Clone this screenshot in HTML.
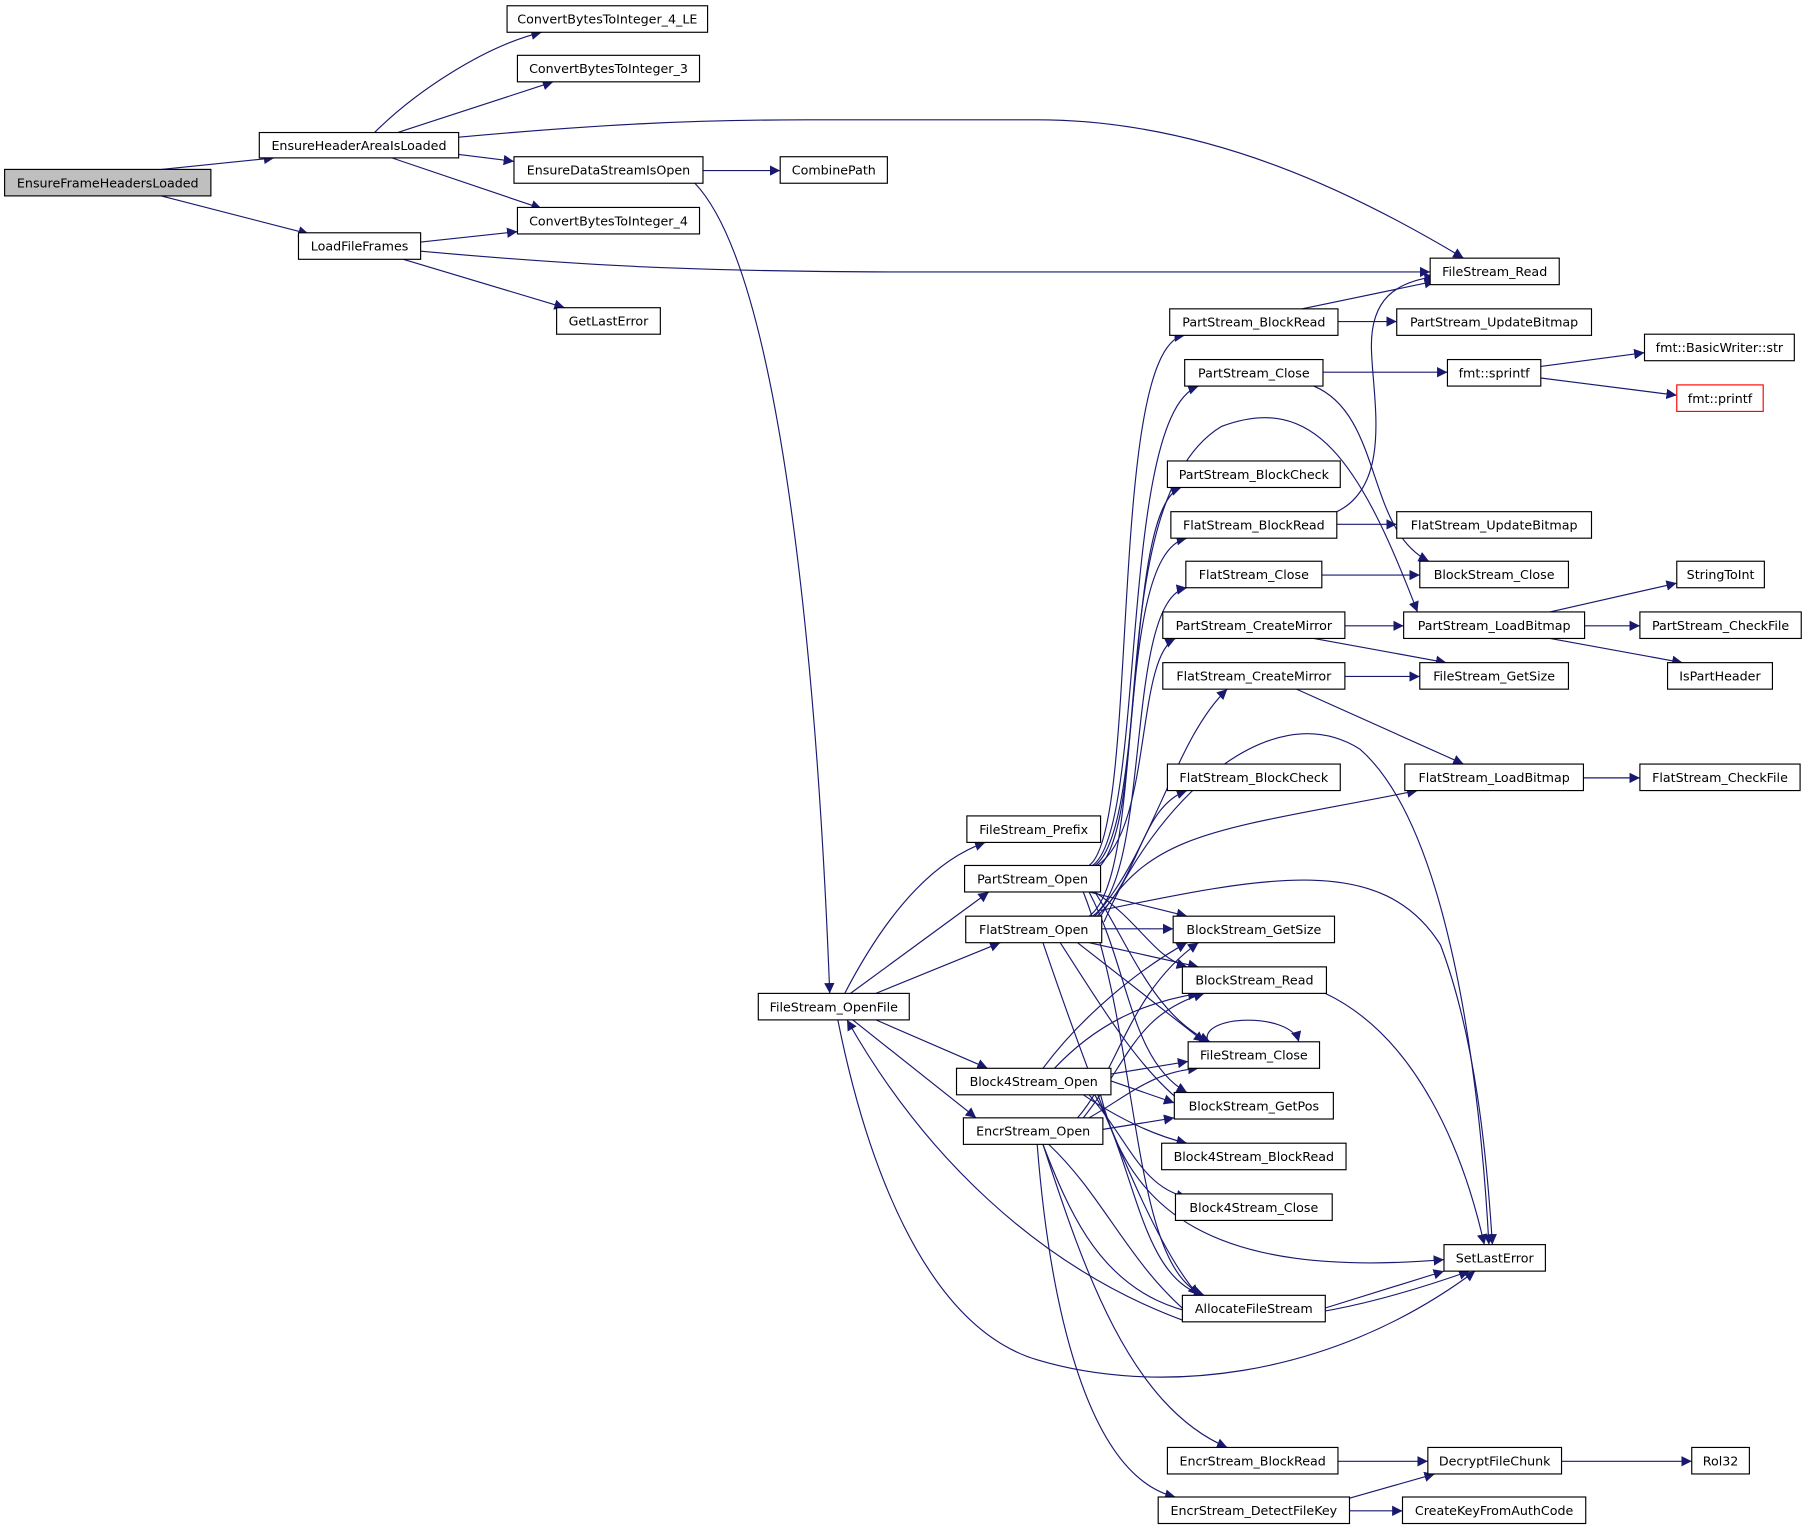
<!DOCTYPE html>
<html><head><meta charset="utf-8"><style>html,body{margin:0;padding:0;background:#fff}svg{display:block}text{font-family:"DejaVu Sans","Liberation Sans",sans-serif;font-size:11px;fill:#000}</style></head><body>
<svg width="1807" height="1531" viewBox="0 0 1568 1328.5" xmlns="http://www.w3.org/2000/svg">
<defs><marker id="a" viewBox="0 0 10 10" refX="10" refY="5" markerWidth="9" markerHeight="9" markerUnits="userSpaceOnUse" orient="auto"><path d="M0,0L10,5L0,10z" fill="#191970"/></marker></defs>
<g fill="none" stroke="#191970" stroke-width="1" marker-end="url(#a)">
<path d="M140,147L238,137"/>
<path d="M140,170L268,203"/>
<path d="M325,115C360,80 420,40 470,28"/>
<path d="M345,115L480,71"/>
<path d="M398,119C520,108 600,104 700,104L900,104C1050,104 1180,170 1270,224"/>
<path d="M398,134L446,140"/>
<path d="M340,137L470,181"/>
<path d="M365,210L449,201"/>
<path d="M365,218C500,230 600,236 800,236L1241,236"/>
<path d="M350,225L490,267"/>
<path d="M610,148L677,148"/>
<path d="M603,159C680,240 710,600 720,862"/>
<path d="M733,862C760,810 800,750 855,731"/>
<path d="M738,862L858,774"/>
<path d="M760,862L868,818"/>
<path d="M760,885L857,927"/>
<path d="M740,885L847,970"/>
<path d="M727,885C750,1000 800,1150 900,1180C1000,1210 1150,1200 1280,1103"/>
<path d="M1030,1147C900,1100 800,1000 735,885"/>
<!-- PartStream_Open -->
<path d="M945,751C990,720 960,300 1028,291"/>
<path d="M948,751C995,720 970,360 1040,335"/>
<path d="M950,751C995,720 975,440 1025,423"/>
<path d="M952,751C1000,720 985,570 1020,554"/>
<path d="M955,751C1000,700 960,430 1060,370C1140,340 1180,400 1230,531"/>
<path d="M945,774L1030,795"/>
<path d="M950,774C990,800 1000,830 1030,839"/>
<path d="M950,774C980,820 1000,880 1050,904"/>
<path d="M945,774C980,840 980,920 1030,948"/>
<path d="M940,774C990,900 980,1100 1045,1124"/>
<path d="M955,790C1100,760 1200,740 1250,820C1280,900 1290,1000 1295,1080"/>
<!-- FlatStream_Open -->
<path d="M945,795C995,760 965,480 1030,467"/>
<path d="M948,795C1000,760 975,520 1030,510"/>
<path d="M950,795C1000,740 1020,640 1065,598"/>
<path d="M952,795C990,760 990,700 1030,686"/>
<path d="M955,795C1000,720 1060,720 1230,686"/>
<path d="M956,806L1018,806"/>
<path d="M945,818L1040,839"/>
<path d="M935,818L1045,904"/>
<path d="M920,818C960,880 990,930 1030,960"/>
<path d="M905,818C950,950 1000,1080 1040,1124"/>
<path d="M958,800C1000,700 1100,600 1180,650C1260,720 1285,950 1292,1080"/>
<!-- Block4Stream_Open -->
<path d="M905,927C940,880 990,840 1030,818"/>
<path d="M915,927C950,890 990,870 1040,862"/>
<path d="M964,932L1031,921"/>
<path d="M964,938L1019,957"/>
<path d="M940,950C970,970 1000,985 1030,992"/>
<path d="M945,950C980,990 990,1030 1030,1039"/>
<path d="M950,950C985,1010 990,1110 1045,1124"/>
<path d="M955,950C980,1050 1050,1110 1253,1093"/>
<!-- EncrStream_Open -->
<path d="M935,970C970,930 980,860 1040,818"/>
<path d="M940,970C980,920 985,880 1045,862"/>
<path d="M945,970C980,950 1000,930 1040,927"/>
<path d="M957,980L1019,970"/>
<path d="M905,993C940,1100 980,1220 1065,1256"/>
<path d="M900,993C910,1120 940,1280 1020,1299"/>
<path d="M910,993C960,1040 980,1100 1040,1147"/>
<path d="M905,993C950,1110 1000,1200 1275,1103"/>
<!-- right -->
<path d="M1130,268L1245,244"/>
<path d="M1161,279L1212,279"/>
<path d="M1148,323L1256,323"/>
<path d="M1140,335C1200,360 1185,460 1240,487"/>
<path d="M1337,318L1427,306"/>
<path d="M1337,328L1455,343"/>
<path d="M1160,444C1210,420 1190,340 1190,300C1190,260 1210,245 1245,240"/>
<path d="M1160,455L1212,455"/>
<path d="M1147,499L1232,499"/>
<path d="M1167,543L1218,543"/>
<path d="M1140,554L1255,575"/>
<path d="M1167,587L1232,587"/>
<path d="M1125,598L1270,663"/>
<path d="M1374,675L1423,675"/>
<path d="M1345,531L1455,506"/>
<path d="M1375,543L1423,543"/>
<path d="M1345,554L1460,575"/>
<path d="M1150,862C1230,900 1270,1000 1288,1080"/>
<path d="M1150,1135L1253,1103"/>
<path d="M1048,904C1040,880 1120,878 1127,904"/>
<path d="M1161,1268L1239,1268"/>
<path d="M1355,1268L1468,1268"/>
<path d="M1171,1300L1245,1279"/>
<path d="M1171,1311L1217,1311"/>
</g>
<g stroke-width="1" text-anchor="middle">
<g fill="#fff" stroke="#000">
<rect x="4" y="147" width="179" height="23" fill="#bfbfbf"/>
<rect x="225" y="115" width="173" height="22"/>
<rect x="259" y="202" width="106" height="23"/>
<rect x="440" y="5" width="174" height="23"/>
<rect x="449" y="48" width="158" height="23"/>
<rect x="446" y="136" width="164" height="23"/>
<rect x="449" y="180" width="158" height="23"/>
<rect x="483" y="267" width="90" height="23"/>
<rect x="677" y="136" width="93" height="23"/>
<rect x="1241" y="224" width="112" height="23"/>
<rect x="1015" y="268" width="146" height="23"/>
<rect x="1212" y="268" width="169" height="23"/>
<rect x="1028" y="312" width="120" height="23"/>
<rect x="1256" y="312" width="81" height="23"/>
<rect x="1427" y="290" width="130" height="23"/>
<rect x="1455" y="334" width="75" height="23" stroke="#ff0000"/>
<rect x="1013" y="400" width="150" height="23"/>
<rect x="1016" y="444" width="144" height="23"/>
<rect x="1212" y="444" width="169" height="23"/>
<rect x="1029" y="487" width="118" height="23"/>
<rect x="1232" y="487" width="129" height="23"/>
<rect x="1009" y="531" width="158" height="23"/>
<rect x="1218" y="531" width="157" height="23"/>
<rect x="1455" y="487" width="76" height="23"/>
<rect x="1423" y="531" width="140" height="23"/>
<rect x="1009" y="575" width="158" height="23"/>
<rect x="1232" y="575" width="129" height="23"/>
<rect x="1447" y="575" width="91" height="23"/>
<rect x="1013" y="663" width="150" height="23"/>
<rect x="1219" y="663" width="155" height="23"/>
<rect x="1423" y="663" width="139" height="23"/>
<rect x="839" y="708" width="116" height="23"/>
<rect x="837" y="751" width="118" height="23"/>
<rect x="838" y="795" width="118" height="23"/>
<rect x="1018" y="795" width="140" height="23"/>
<rect x="1026" y="839" width="125" height="23"/>
<rect x="658" y="862" width="131" height="23"/>
<rect x="1031" y="904" width="114" height="23"/>
<rect x="830" y="927" width="134" height="23"/>
<rect x="1019" y="948" width="138" height="23"/>
<rect x="836" y="970" width="121" height="23"/>
<rect x="1008" y="992" width="160" height="23"/>
<rect x="1020" y="1036" width="136" height="23"/>
<rect x="1253" y="1080" width="88" height="23"/>
<rect x="1026" y="1124" width="124" height="23"/>
<rect x="1013" y="1256" width="148" height="23"/>
<rect x="1239" y="1256" width="116" height="23"/>
<rect x="1468" y="1256" width="50" height="23"/>
<rect x="1005" y="1299" width="166" height="23"/>
<rect x="1217" y="1299" width="159" height="23"/>
</g>
<text x="93.5" y="162.5">EnsureFrameHeadersLoaded</text>
<text x="311.5" y="130">EnsureHeaderAreaIsLoaded</text>
<text x="312" y="217.5">LoadFileFrames</text>
<text x="527" y="20.5">ConvertBytesToInteger_4_LE</text>
<text x="528" y="63.5">ConvertBytesToInteger_3</text>
<text x="528" y="151.5">EnsureDataStreamIsOpen</text>
<text x="528" y="195.5">ConvertBytesToInteger_4</text>
<text x="528" y="282.5">GetLastError</text>
<text x="723.5" y="151.5">CombinePath</text>
<text x="1297" y="239.5">FileStream_Read</text>
<text x="1088" y="283.5">PartStream_BlockRead</text>
<text x="1296.5" y="283.5">PartStream_UpdateBitmap</text>
<text x="1088" y="327.5">PartStream_Close</text>
<text x="1296.5" y="327.5">fmt::sprintf</text>
<text x="1492" y="305.5">fmt::BasicWriter::str</text>
<text x="1492.5" y="349.5">fmt::printf</text>
<text x="1088" y="415.5">PartStream_BlockCheck</text>
<text x="1088" y="459.5">FlatStream_BlockRead</text>
<text x="1296.5" y="459.5">FlatStream_UpdateBitmap</text>
<text x="1088" y="502.5">FlatStream_Close</text>
<text x="1296.5" y="502.5">BlockStream_Close</text>
<text x="1088" y="546.5">PartStream_CreateMirror</text>
<text x="1296.5" y="546.5">PartStream_LoadBitmap</text>
<text x="1493" y="502.5">StringToInt</text>
<text x="1493" y="546.5">PartStream_CheckFile</text>
<text x="1088" y="590.5">FlatStream_CreateMirror</text>
<text x="1296.5" y="590.5">FileStream_GetSize</text>
<text x="1492.5" y="590.5">IsPartHeader</text>
<text x="1088" y="678.5">FlatStream_BlockCheck</text>
<text x="1296.5" y="678.5">FlatStream_LoadBitmap</text>
<text x="1492.5" y="678.5">FlatStream_CheckFile</text>
<text x="897" y="723.5">FileStream_Prefix</text>
<text x="896" y="766.5">PartStream_Open</text>
<text x="897" y="810.5">FlatStream_Open</text>
<text x="1088" y="810.5">BlockStream_GetSize</text>
<text x="1088.5" y="854.5">BlockStream_Read</text>
<text x="723.5" y="877.5">FileStream_OpenFile</text>
<text x="1088" y="919.5">FileStream_Close</text>
<text x="897" y="942.5">Block4Stream_Open</text>
<text x="1088" y="963.5">BlockStream_GetPos</text>
<text x="896.5" y="985.5">EncrStream_Open</text>
<text x="1088" y="1007.5">Block4Stream_BlockRead</text>
<text x="1088" y="1051.5">Block4Stream_Close</text>
<text x="1297" y="1095.5">SetLastError</text>
<text x="1088" y="1139.5">AllocateFileStream</text>
<text x="1087" y="1271.5">EncrStream_BlockRead</text>
<text x="1297" y="1271.5">DecryptFileChunk</text>
<text x="1493" y="1271.5">Rol32</text>
<text x="1088" y="1314.5">EncrStream_DetectFileKey</text>
<text x="1296.5" y="1314.5">CreateKeyFromAuthCode</text>
</g>
</svg>
</body></html>
